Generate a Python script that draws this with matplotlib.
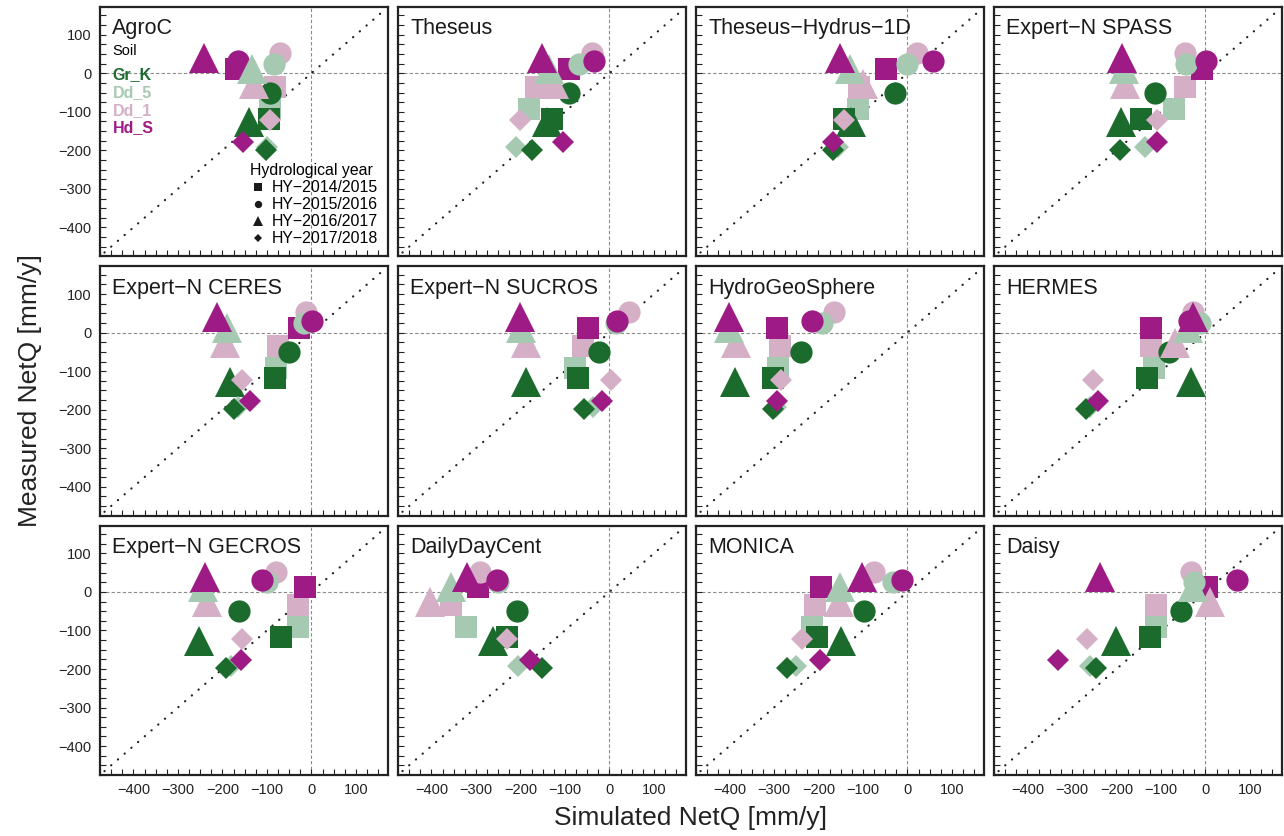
import matplotlib
matplotlib.use('Agg')
import matplotlib.pyplot as plt
from matplotlib.lines import Line2D
from matplotlib.ticker import MultipleLocator

plt.rcParams['font.family'] = ['Liberation Sans', 'DejaVu Sans']

# soils (legend order) and hydrological years
soils = ['Gr_K', 'Dd_5', 'Dd_1', 'Hd_S']
soil_colors = ['#1a6b2c', '#a6c9b1', '#d4afc6', '#9e1a84']
years = ['HY\u22122014/2015', 'HY\u22122015/2016', 'HY\u22122016/2017', 'HY\u22122017/2018']
year_markers = ['s', 'o', '^', 'D']
year_msize = [16.5, 16, 21, 11.5]

# measured NetQ [mm/y], rows = soils, cols = years
measured = [
    [-118, -50, -127, -198],
    [-92, 25, 12, -192],
    [-35, 53, -27, -122],
    [12, 31, 40, -177],
]

# simulated NetQ [mm/y] per model, rows = soils, cols = years
sim_agroc = [[-96, -94, -141, -103], [-92, -85, -133, -100], [-81, -70, -130, -92], [-170, -165, -242, -154]]
sim_theseus = [[-129, -91, -140, -175], [-181, -69, -136, -211], [-166, -39, -125, -200], [-91, -35, -151, -105]]
sim_theseus_h1d = [[-142, -28, -127, -168], [-112, 0, -130, -157], [-108, 22, -100, -142], [-48, 58, -151, -168]]
sim_spass = [[-145, -113, -190, -193], [-70, -44, -183, -136], [-46, -46, -181, -108], [-7, 2, -188, -108]]
sim_ceres = [[-82, -50, -184, -175], [-80, -17, -190, -164], [-75, -13, -194, -155], [-28, 2, -212, -138]]
sim_sucros = [[-70, -24, -188, -57], [-78, 15, -199, -37], [-59, 45, -188, 4], [-47, 16, -201, -16]]
sim_hgs = [[-302, -240, -388, -302], [-291, -191, -401, -296], [-287, -164, -385, -285], [-292, -214, -401, -292]]
sim_hermes = [[-132, -82, -33, -269], [-115, -12, -39, -260], [-123, -28, -69, -252], [-123, -38, -27, -241]]
sim_gecros = [[-69, -163, -253, -192], [-31, -100, -243, -181], [-31, -79, -234, -155], [-15, -112, -238, -159]]
sim_ddc = [[-231, -208, -262, -152], [-322, -250, -355, -205], [-356, -291, -403, -231], [-295, -253, -321, -178]]
sim_monica = [[-204, -98, -149, -270], [-214, -32, -152, -250], [-208, -75, -153, -237], [-195, -13, -102, -197]]
sim_daisy = [[-125, -56, -200, -247], [-110, -25, -27, -260], [-110, -33, 10, -266], [3, 72, -236, -332]]

models = ['AgroC', 'Theseus', 'Theseus\u2212Hydrus\u22121D', 'Expert\u2212N SPASS',
          'Expert\u2212N CERES', 'Expert\u2212N SUCROS', 'HydroGeoSphere', 'HERMES',
          'Expert\u2212N GECROS', 'DailyDayCent', 'MONICA', 'Daisy']
model_sims = [sim_agroc, sim_theseus, sim_theseus_h1d, sim_spass,
              sim_ceres, sim_sucros, sim_hgs, sim_hermes,
              sim_gecros, sim_ddc, sim_monica, sim_daisy]

lim = (-475, 172)
draw_order = sorted(range(len(soils)), key=lambda i: soils[i])

fig, axes = plt.subplots(3, 4, figsize=(12.84, 8.36), dpi=100, sharex=True, sharey=True)
fig.subplots_adjust(left=100/1284, right=1282/1284, top=1-7/836, bottom=1-775/836,
                    wspace=0.035, hspace=0.04)

for ax, name, sim in zip(axes.flat, models, model_sims):
    ax.axhline(0, color='#8a8a8a', lw=0.8, ls=(0, (3, 2)), zorder=1)
    ax.axvline(0, color='#8a8a8a', lw=0.8, ls=(0, (3, 2)), zorder=1)
    ax.plot([-465, 165], [-465, 165], color='#222222', lw=1.6, ls=(0, (0.1, 3.9)),
            dash_capstyle='round', zorder=1)
    for j in range(len(years)):
        for i in draw_order:
            ax.plot(sim[i][j], measured[i][j], ls='none', marker=year_markers[j],
                    ms=year_msize[j], mew=0, color=soil_colors[i], zorder=3)
    ax.text(0.042, 0.955, name, transform=ax.transAxes, ha='left', va='top', fontsize=15.5, color='#1a1a1a')
    ax.set_xlim(lim)
    ax.set_ylim(lim)
    ax.xaxis.set_major_locator(MultipleLocator(100))
    ax.yaxis.set_major_locator(MultipleLocator(100))
    ax.xaxis.set_minor_locator(MultipleLocator(25))
    ax.yaxis.set_minor_locator(MultipleLocator(25))
    ax.tick_params(which='both', direction='in', length=4, width=0.8, top=False, right=False,
                   labelsize=10.5, colors='#222222', pad=6)
    for sp in ax.spines.values():
        sp.set_linewidth(1.6)
        sp.set_color('#222222')

# legends in the first panel
ax0 = axes[0, 0]
soil_handles = [Line2D([], [], ls='none') for s in soils]
leg1 = ax0.legend(soil_handles, soils, loc='upper left', bbox_to_anchor=(0.0, 0.902),
                  title='Soil', frameon=False, handlelength=0, handletextpad=0,
                  labelcolor=soil_colors, prop={'weight': 'bold', 'size': 11.5},
                  title_fontsize=10.5, alignment='left', labelspacing=0.17, borderpad=0.3)
leg1._legend_box.sep = 6.5
ax0.add_artist(leg1)
year_handles = [Line2D([], [], ls='none', marker=m, color='#1a1a1a', ms=s * 0.33, mew=0)
                for m, s in zip(year_markers, year_msize)]
ax0.legend(year_handles, years, loc='lower right', title='Hydrological year', frameon=False,
           fontsize=11.4, title_fontsize=11.4, alignment='left', labelspacing=0.12,
           handlelength=1.0, handletextpad=0.35, borderaxespad=0.15, borderpad=0.5)

fig.text(691/1284, 1-818/836, 'Simulated NetQ [mm/y]', ha='center', va='center', fontsize=19, color='#222222')
fig.text(30/1284, 1-391/836, 'Measured NetQ [mm/y]', ha='center', va='center', rotation=90,
         fontsize=19, color='#222222')

fig.savefig('out.png', dpi=100)
